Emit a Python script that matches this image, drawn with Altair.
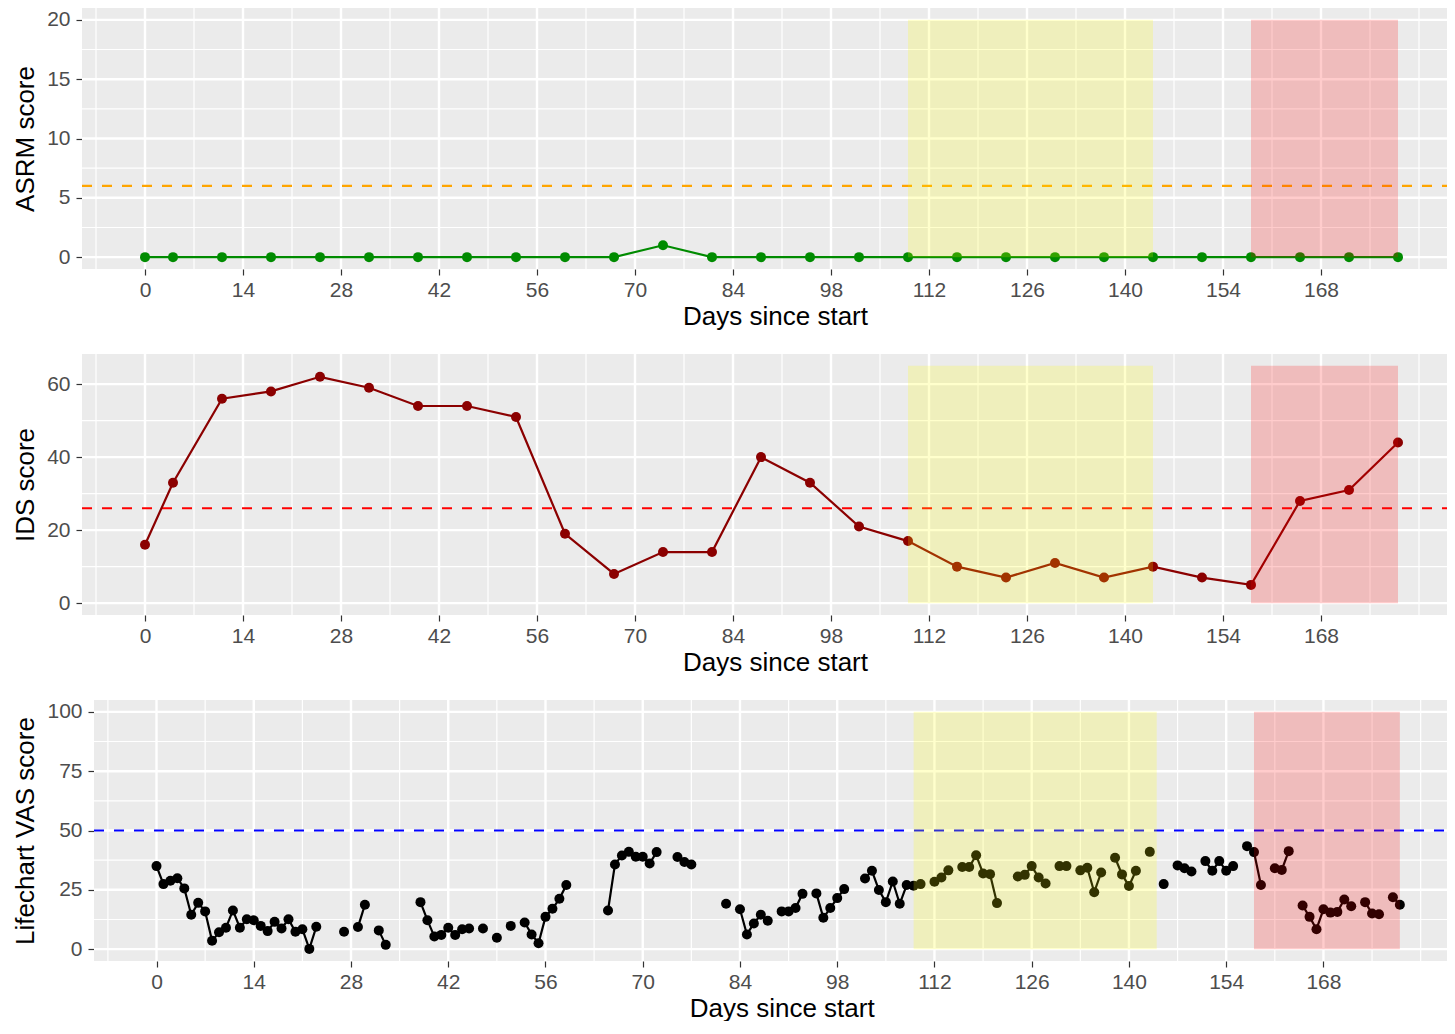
import altair as alt
import pandas as pd

FONT = "Liberation Sans"

# ---------------- data ----------------
visit_days = [0, 4, 11, 18, 25, 32, 39, 46, 53, 60, 67, 74, 81, 88, 95, 102,
              109, 116, 123, 130, 137, 144, 151, 158, 165, 172, 179]
asrm_scores = [0, 0, 0, 0, 0, 0, 0, 0, 0, 0, 0, 1, 0, 0, 0, 0,
               0, 0, 0, 0, 0, 0, 0, 0, 0, 0, 0]
ids_scores = [16, 33, 56, 58, 62, 59, 54, 54, 51, 19, 8, 14, 14, 40, 33, 21,
              17, 10, 7, 11, 7, 10, 7, 5, 28, 31, 44]

vas_days = [0, 1, 2, 3, 4, 5, 6, 7, 8, 9, 10, 11, 12, 13, 14, 15, 16, 17, 18, 19, 20, 21, 22, 23,
            27, 29, 30, 32, 33,
            38, 39, 40, 41, 42, 43, 44, 45, 47, 49, 51, 53, 54, 55, 56, 57, 58, 59,
            65, 66, 67, 68, 69, 70, 71, 72,
            75, 76, 77,
            82, 84, 85, 86, 87, 88, 90, 91, 92, 93, 95, 96, 97, 98, 99,
            102, 103, 104, 105, 106, 107, 108, 109, 110, 112, 113, 114, 116, 117, 118, 119, 120, 121,
            124, 125, 126, 127, 128, 130, 131, 133, 134, 135, 136, 138, 139, 140, 141, 143, 145,
            147, 148, 149, 151, 152, 153, 154, 155, 157, 158, 159, 161, 162, 163,
            165, 166, 167, 168, 169, 170, 171, 172, 174, 175, 176, 178, 179]
vas_scores = [35.0, 27.4, 28.8, 29.9, 25.6, 14.5, 19.5, 15.9, 3.5, 7.1, 9.0, 16.3, 9.0, 12.6, 12.2, 9.8,
              7.6, 11.5, 8.7, 12.6, 7.3, 8.4, 0.1, 9.4,
              7.3, 9.3, 18.7, 7.9, 1.8,
              19.8, 12.2, 5.3, 6.0, 9.0, 6.0, 8.4, 8.7, 8.7, 4.8, 9.8, 11.2, 6.2, 2.5, 13.6, 17.0, 21.2, 27.0,
              16.3, 35.7, 39.5, 41.0, 38.9, 38.9, 36.1, 40.9,
              38.8, 36.7, 35.7,
              19.1, 16.8, 6.2, 10.8, 14.5, 12.0, 15.9, 15.9, 17.3, 23.3, 23.5, 13.2, 17.3, 21.5, 25.3,
              29.8, 33.0, 24.9, 19.8, 28.5, 19.1, 27.0, 26.7, 27.4, 28.4, 30.2, 33.2, 34.6, 34.6, 39.6, 31.9, 31.6, 19.4,
              30.6, 31.3, 35.0, 30.2, 27.7, 35.0, 35.0, 33.2, 34.3, 24.0, 32.3, 38.5, 31.5, 26.6, 33.0, 41.0, 27.4,
              35.3, 34.1, 32.7, 37.1, 33.0, 37.1, 33.0, 35.0, 43.4, 40.9, 27.0, 34.1, 33.4, 41.3,
              18.4, 13.6, 8.4, 16.8, 15.4, 15.7, 20.9, 18.1, 19.8, 15.0, 14.7, 21.9, 18.7]

phase_start = [109, 158]
phase_end = [144, 179]
phase_colors = ["yellow", "red"]
phase_bottom = 0

asrm_threshold = 6
ids_threshold = 26
vas_threshold = 50

x_breaks = [0, 14, 28, 42, 56, 70, 84, 98, 112, 126, 140, 154, 168]
x_minor = [-7, 7, 21, 35, 49, 63, 77, 91, 105, 119, 133, 147, 161, 175, 182]
asrm_breaks = [0, 5, 10, 15, 20]
asrm_minor = [2.5, 7.5, 12.5, 17.5]
ids_breaks = [0, 20, 40, 60]
ids_minor = [10, 30, 50]
vas_breaks = [0, 25, 50, 75, 100]
vas_minor = [12.5, 37.5, 62.5, 87.5]

X_START = -9
X_FULL_END = 189
PANEL_BG = "#EBEBEB"


def panel(days, scores, line_color, thr, thr_color, y_dom, y_breaks, y_minor,
          rect_top, y_title, width, px_per_day, height, split_gaps, shift_px=0.0):
    # shift_px: extra room (px) left of the grey panel, used to push this panel's y axis right
    dom_start = X_START - shift_px / px_per_day
    x_end = dom_start + width / px_per_day
    title_x = (X_FULL_END - X_START) * px_per_day / 2 + shift_px
    xs = alt.Scale(domain=[dom_start, x_end], nice=False, zero=False)
    ys = alt.Scale(domain=y_dom, nice=False, zero=False)
    xa = alt.Axis(values=x_breaks, title="Days since start", titleX=title_x, grid=False)
    ya = alt.Axis(values=y_breaks, title=y_title, grid=False, offset=-shift_px)

    def X(f):
        return alt.X(f, type="quantitative", scale=xs, axis=xa)

    def Y(f):
        return alt.Y(f, type="quantitative", scale=ys, axis=ya)

    df = pd.DataFrame({"day": days, "score": scores})
    if split_gaps:
        df["seg"] = (df["day"].diff() != 1).cumsum()
    else:
        df["seg"] = 0

    bg = alt.Chart(pd.DataFrame({"day": [X_START], "day_end": [x_end],
                                 "score": [y_dom[0]], "score_top": [y_dom[1]]})).mark_rect(
        color=PANEL_BG).encode(x=X("day"), x2="day_end", y=Y("score"), y2="score_top")

    def vrules(vals, w):
        return alt.Chart(pd.DataFrame({"day": vals})).mark_rule(
            color="white", strokeWidth=w, clip=True).encode(x=X("day"))

    def hrules(vals, w, color="white", dash=None):
        d = pd.DataFrame({"score": vals, "day": [X_START] * len(vals),
                          "day_end": [x_end] * len(vals)})
        kw = dict(color=color, strokeWidth=w, clip=True)
        if dash:
            kw["strokeDash"] = dash
        return alt.Chart(d).mark_rule(**kw).encode(x=X("day"), x2="day_end", y=Y("score"))

    minor_x = vrules(x_minor, 1.2)
    minor_y = hrules(y_minor, 1.2)
    major_x = vrules(x_breaks, 2.4)
    major_y = hrules(y_breaks, 2.4)
    thr_line = hrules([thr], 2.2, color=thr_color, dash=[10, 10])

    line = alt.Chart(df).mark_line(color=line_color, strokeWidth=2.2).encode(
        x=X("day"), y=Y("score"), detail="seg:N")
    pts = alt.Chart(df).mark_circle(color=line_color, size=100, opacity=1).encode(
        x=X("day"), y=Y("score"))
    rect_df = pd.DataFrame({
        "day": phase_start, "day_end": phase_end,
        "score": [phase_bottom] * len(phase_start),
        "score_top": [rect_top] * len(phase_start),
        "fill": phase_colors,
    })
    rects = alt.Chart(rect_df).mark_rect(opacity=0.2).encode(
        x=X("day"), x2="day_end", y=Y("score"), y2="score_top",
        color=alt.Color("fill:N", scale=None))
    return alt.layer(bg, minor_x, minor_y, major_x, major_y, thr_line, line, pts, rects).properties(
        width=width, height=height)


H = 261
PLOT_W = 1365
p1 = panel(visit_days, asrm_scores, "#008B00", asrm_threshold, "#FFA500",
           [-1, 21], asrm_breaks, asrm_minor, 20, "ASRM score", PLOT_W, 7.0, H, False)
p2 = panel(visit_days, ids_scores, "#8B0000", ids_threshold, "#FF0000",
           [-3.25, 68.25], ids_breaks, ids_minor, 65, "IDS score", PLOT_W, 7.0, H, False)
p3 = panel(vas_days, vas_scores, "black", vas_threshold, "#0000FF",
           [-5, 105], vas_breaks, vas_minor, 100, "Lifechart VAS score", PLOT_W, 6.946, H, True,
           shift_px=12)

chart = alt.vconcat(p1, p2, p3, spacing=25).properties(
    padding={"left": 4, "top": 0, "right": 0, "bottom": 0}
).configure_view(
    stroke=None
).configure_axis(
    domain=False, grid=False,
    tickColor="#333333", tickSize=6, tickWidth=1.2,
    labelFont=FONT, labelFontSize=21, labelColor="#4D4D4D",
    titleFont=FONT, titleFontSize=26, titleFontWeight="normal", titleColor="black",
    labelFlush=False, labelOverlap=False,
).configure_axisX(
    labelPadding=4, titlePadding=3
).configure_axisY(
    labelPadding=6, titlePadding=8
)

chart.save("out.html", embed_options={"renderer": "svg", "actions": False})
